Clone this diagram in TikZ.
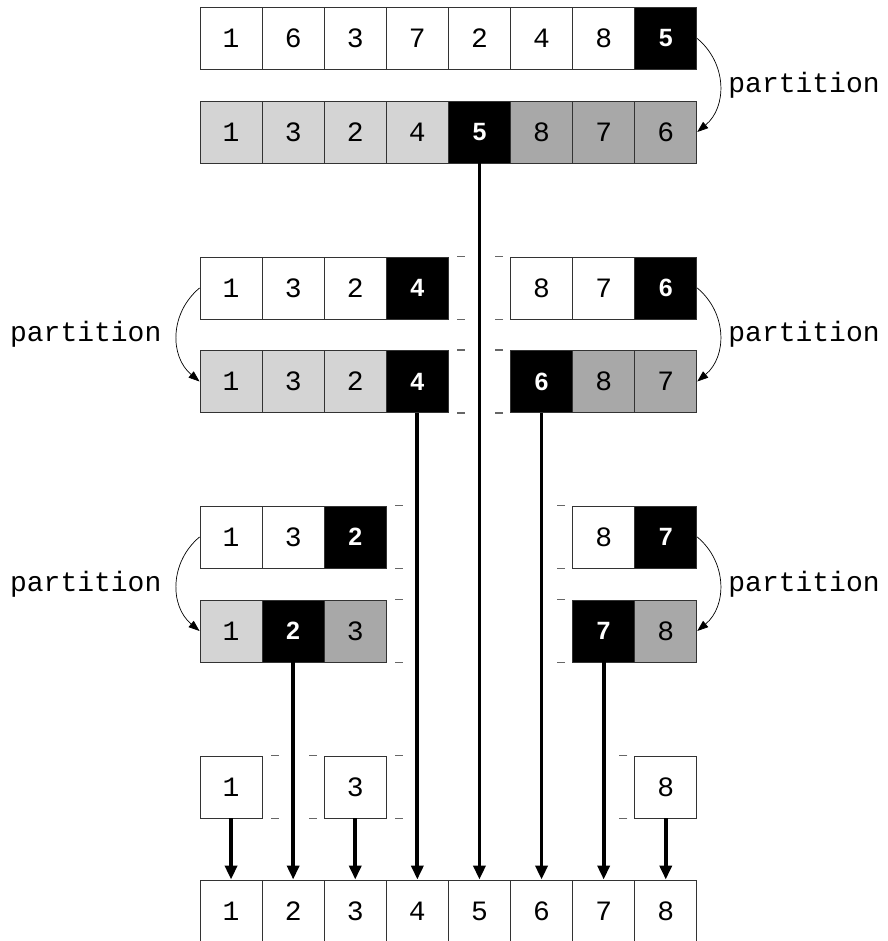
\documentclass[tikz,border=0pt]{standalone}
\usepackage{fontspec}
\setmonofont{Liberation Mono}
\newfontfamily\pivotfont{Liberation Sans}
\usetikzlibrary{arrows.meta}

\begin{document}
\begin{tikzpicture}[x=1pt, y=-1pt, every node/.style={font=\fontsize{28}{30}\selectfont\ttfamily},
  cell/.style={rectangle, draw=black!80, line width=0.9pt, minimum width=62.1pt, minimum height=62pt, inner sep=0pt},
  cellw/.style={cell, fill=white},
  celll/.style={cell, fill=black!17},
  celld/.style={cell, fill=black!34},
  cellp/.style={cell, fill=black, text=white, execute at begin node={\pivotfont\bfseries\fontsize{25}{28}\selectfont}},
  gapmark/.style={draw=black!60, line width=1.2pt},
  pivot/.style={-{Triangle[length=14pt, width=12pt]}, line width=3.8pt},
  split/.style={-{Triangle[length=11pt, width=8pt]}, line width=0.7pt}]
  \useasboundingbox (0,0) rectangle (887,941);
  % input
  \foreach \c/\v/\s in {0/1/cellw, 1/6/cellw, 2/3/cellw, 3/7/cellw, 4/2/cellw, 5/4/cellw, 6/8/cellw, 7/5/cellp}
    \node[\s] (r1c\c) at ({231.05+62.1*\c}, 38.5) {\v};
  \foreach \c/\v/\s in {0/1/celll, 1/3/celll, 2/2/celll, 3/4/celll, 4/5/cellp, 5/8/celld, 6/7/celld, 7/6/celld}
    \node[\s] (r2c\c) at ({231.05+62.1*\c}, 132) {\v};
  % second level
  \foreach \c/\v/\s in {0/1/cellw, 1/3/cellw, 2/2/cellw, 3/4/cellp, 5/8/cellw, 6/7/cellw, 7/6/cellp}
    \node[\s] (r3c\c) at ({231.05+62.1*\c}, 288) {\v};
  \foreach \c/\v/\s in {0/1/celll, 1/3/celll, 2/2/celll, 3/4/cellp, 5/6/cellp, 6/8/celld, 7/7/celld}
    \node[\s] (r4c\c) at ({231.05+62.1*\c}, 381.5) {\v};
  % third level
  \foreach \c/\v/\s in {0/1/cellw, 1/3/cellw, 2/2/cellp, 6/8/cellw, 7/7/cellp}
    \node[\s] (r5c\c) at ({231.05+62.1*\c}, 537) {\v};
  \foreach \c/\v/\s in {0/1/celll, 1/2/cellp, 2/3/celld, 6/7/cellp, 7/8/celld}
    \node[\s] (r6c\c) at ({231.05+62.1*\c}, 631) {\v};
  % single elements
  \foreach \c/\v in {0/1, 2/3, 7/8}
    \node[cellw] (r7c\c) at ({231.05+62.1*\c}, 787) {\v};
  % sorted
  \foreach \v [count=\c from 0] in {1,...,8}
    \node[cellw] (r8c\c) at ({231.05+62.1*\c}, 911) {\v};
  % empty slots
  \foreach \n in {r3c3, r4c3, r5c2, r6c2, r7c0, r7c2} {
    \draw[gapmark] ([xshift=8.5pt]\n.north east) -- ++(8,0);
    \draw[gapmark] ([xshift=8.5pt]\n.south east) -- ++(8,0);
  }
  \foreach \n in {r3c5, r4c5, r5c6, r6c6, r7c2, r7c7} {
    \draw[gapmark] ([xshift=-7pt]\n.north west) -- ++(-8,0);
    \draw[gapmark] ([xshift=-7pt]\n.south west) -- ++(-8,0);
  }
  % partition steps
  \draw[split] (r1c7.east) .. controls +(30,25) and +(30,-25) .. (r2c7.east) node[midway, right=5pt] (lbl1) {partition};
  \draw[split] (r3c0.west) .. controls +(-30,25) and +(-30,-25) .. (r4c0.west) node[midway, left=12pt] (lbl2) {partition};
  \draw[split] (r3c7.east) .. controls +(30,25) and +(30,-25) .. (r4c7.east) node[midway, right=5pt] (lbl3) {partition};
  \draw[split] (r5c0.west) .. controls +(-30,25) and +(-30,-25) .. (r6c0.west) node[midway, left=12pt] (lbl4) {partition};
  \draw[split] (r5c7.east) .. controls +(30,25) and +(30,-25) .. (r6c7.east) node[midway, right=5pt] (lbl5) {partition};
  % pivots drop into place
  \foreach \a/\b in {r2c4/r8c4, r4c3/r8c3, r4c5/r8c5, r6c1/r8c1, r6c6/r8c6, r7c0/r8c0, r7c2/r8c2, r7c7/r8c7}
    \draw[pivot] (\a.south) -- (\b.north);
\end{tikzpicture}
\end{document}
